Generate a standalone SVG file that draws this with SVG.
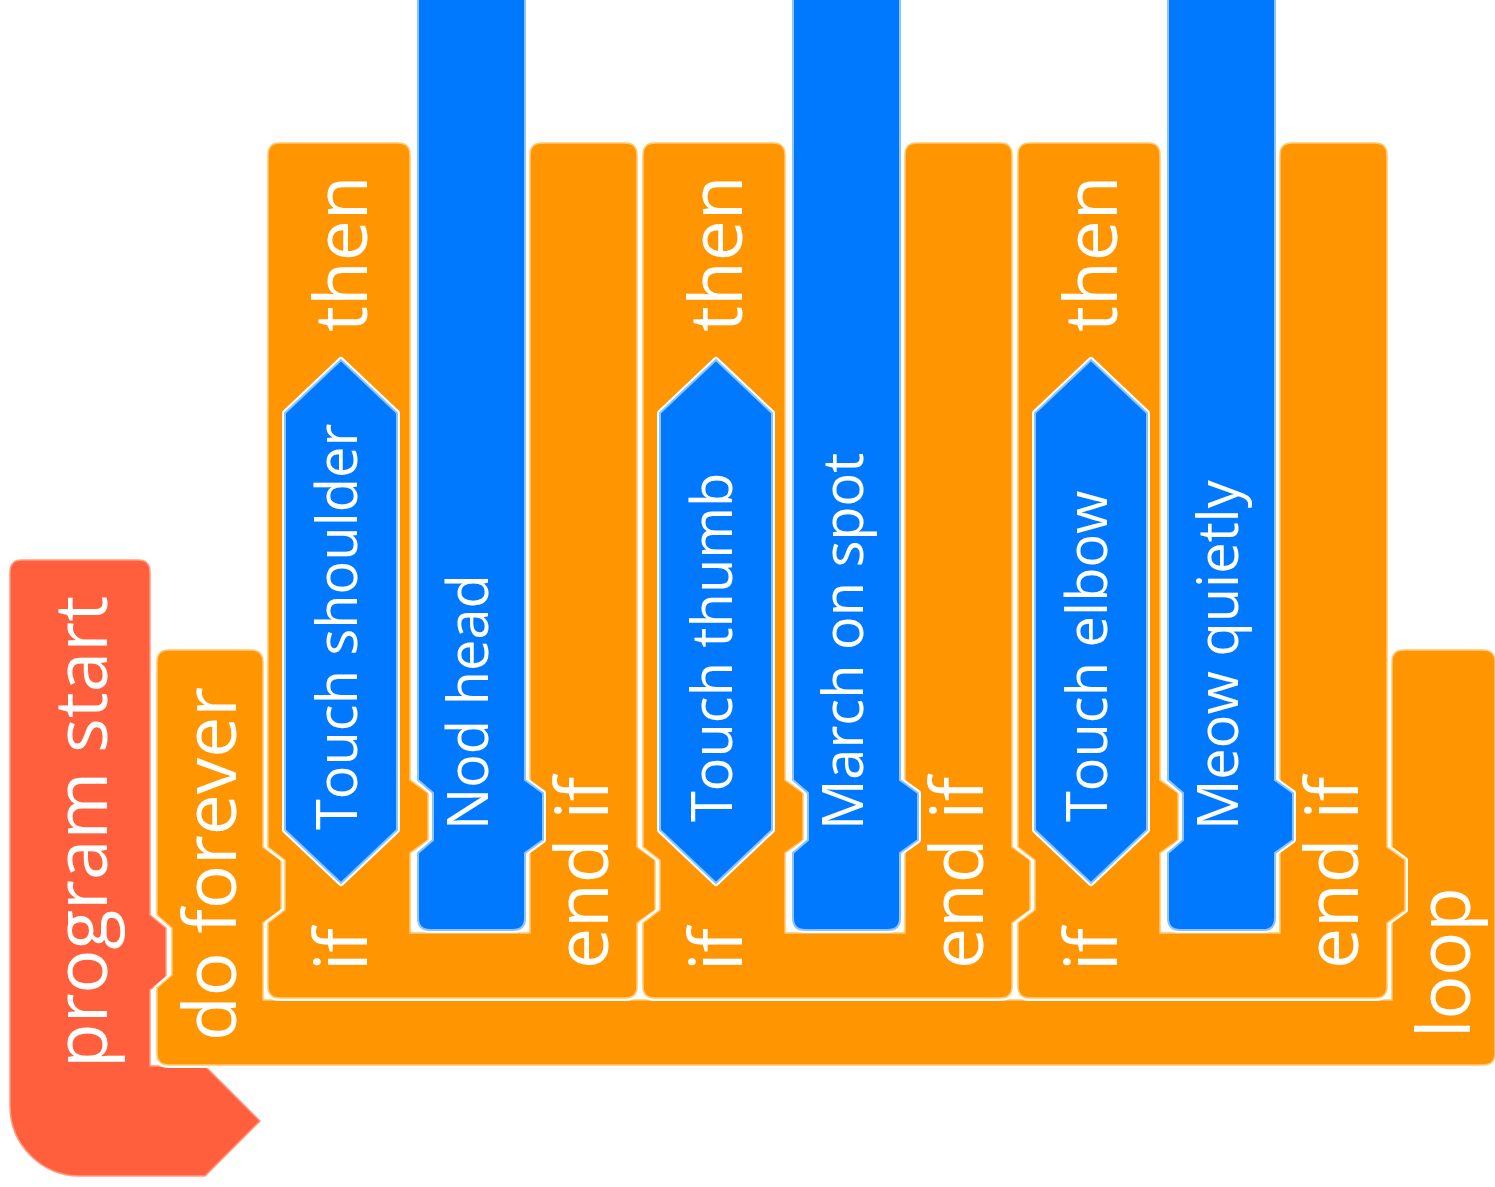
<svg xmlns="http://www.w3.org/2000/svg" xmlns:xlink="http://www.w3.org/1999/xlink" width="1495" height="1187" viewBox="0 0 1495 1187">
  <style>
    .halo { fill: none; stroke: #ffffff; stroke-width: 6; stroke-linejoin: round; }
    .hat { fill: #ff5f3c; stroke: #ff9a80; stroke-width: 1.5; }
    .ctl { fill: #ff9500; stroke: #ffc870; stroke-width: 1.5; }
    .act { fill: #0079ff; stroke: #8cc4ff; stroke-width: 2; }
    text { fill: #ffffff; font-family: "Open Sans", "Noto Sans", sans-serif; }
    .big { font-size: 73px; }
    .small { font-size: 56px; }
  </style>
  <defs>
    <!-- if/then ... end if block, drawn with its left edge at x=0 -->
    <path id="ifShape" d="M0,155 Q0,143 12,143 L130,143 Q142,143 142,155 L142,780 L160,793 L160,840 L142,853 L142,933 L262,933 L262,155 Q262,143 274,143 L357,143 Q369,143 369,155 L369,847 L387,860 L387,910 L369,923 L369,986 Q369,998 357,998 L12,998 Q0,998 0,986 L0,923 L17,910 L17,860 L0,847 Z"/>
    <!-- action block sitting in the mouth of an if block -->
    <path id="actShape" d="M150,-10 L257,-10 L257,780 L275,793 L275,840 L257,853 L257,918 Q257,930 245,930 L162,930 Q150,930 150,918 L150,853 L165,840 L165,793 L150,780 Z"/>
    <!-- boolean condition -->
    <path id="condShape" d="M73,360 L129,413 L129,830 L73,883 L17,830 L17,413 Z"/>
    <path id="hatShape" d="M10,572 Q10,560 22,560 L138,560 Q150,560 150,572 L150,915 L166,928 L166,977 L150,990 L150,1066 L205,1066 L260,1121 L205,1176 L80,1176 A70,70 0 0 1 10,1106 Z"/>
    <path id="foreverShape" d="M157,662 Q157,650 169,650 L251,650 Q263,650 263,662 L263,847 L281,860 L281,910 L263,923 L263,1000 L1392,1000 L1392,662 Q1392,650 1404,650 L1483,650 Q1495,650 1495,662 L1495,1053 Q1495,1065 1483,1065 L169,1065 Q157,1065 157,1053 L157,988 L172,975 L172,928 L157,915 Z"/>
  </defs>

  <rect width="1495" height="1187" fill="#ffffff"/>

  <!-- hat block -->
  <g id="program-start">
    <use xlink:href="#hatShape" class="halo"/>
    <use xlink:href="#hatShape" class="hat"/>
    <text class="big" transform="translate(107,1068) rotate(-90)">program start</text>
  </g>

  <!-- forever loop -->
  <g id="do-forever">
    <use xlink:href="#foreverShape" class="halo"/>
    <use xlink:href="#foreverShape" class="ctl"/>
    <text class="big" transform="translate(236,1041) rotate(-90)">do forever</text>
    <text class="big" transform="translate(1470,1038) rotate(-90)">loop</text>
  </g>

  <!-- first if -->
  <g id="if-shoulder" transform="translate(268,0)">
    <use xlink:href="#ifShape" class="halo"/>
    <use xlink:href="#ifShape" class="ctl"/>
    <text class="big" transform="translate(99,971) rotate(-90)">if</text>
    <text class="big" transform="translate(99,332) rotate(-90)">then</text>
    <text class="big" transform="translate(340,969) rotate(-90)">end if</text>
  </g>
  <g id="cond-shoulder" transform="translate(268,0)">
    <use xlink:href="#condShape" class="halo"/>
    <use xlink:href="#condShape" class="act"/>
    <text class="small" transform="translate(89,830) rotate(-90)">Touch shoulder</text>
  </g>
  <g id="act-nod" transform="translate(268,0)">
    <use xlink:href="#actShape" class="halo"/>
    <use xlink:href="#actShape" class="act"/>
    <text class="small" transform="translate(220,830) rotate(-90)">Nod head</text>
  </g>

  <!-- second if -->
  <g id="if-thumb" transform="translate(643,0)">
    <use xlink:href="#ifShape" class="halo"/>
    <use xlink:href="#ifShape" class="ctl"/>
    <text class="big" transform="translate(99,971) rotate(-90)">if</text>
    <text class="big" transform="translate(99,332) rotate(-90)">then</text>
    <text class="big" transform="translate(340,969) rotate(-90)">end if</text>
  </g>
  <g id="cond-thumb" transform="translate(643,0)">
    <use xlink:href="#condShape" class="halo"/>
    <use xlink:href="#condShape" class="act"/>
    <text class="small" transform="translate(89,822) rotate(-90)">Touch thumb</text>
  </g>
  <g id="act-march" transform="translate(643,0)">
    <use xlink:href="#actShape" class="halo"/>
    <use xlink:href="#actShape" class="act"/>
    <text class="small" transform="translate(220,830) rotate(-90)">March on spot</text>
  </g>

  <!-- third if -->
  <g id="if-elbow" transform="translate(1018,0)">
    <use xlink:href="#ifShape" class="halo"/>
    <use xlink:href="#ifShape" class="ctl"/>
    <text class="big" transform="translate(99,971) rotate(-90)">if</text>
    <text class="big" transform="translate(99,332) rotate(-90)">then</text>
    <text class="big" transform="translate(340,969) rotate(-90)">end if</text>
  </g>
  <g id="cond-elbow" transform="translate(1018,0)">
    <use xlink:href="#condShape" class="halo"/>
    <use xlink:href="#condShape" class="act"/>
    <text class="small" transform="translate(89,822) rotate(-90)">Touch elbow</text>
  </g>
  <g id="act-meow" transform="translate(1018,0)">
    <use xlink:href="#actShape" class="halo"/>
    <use xlink:href="#actShape" class="act"/>
    <text class="small" transform="translate(220,830) rotate(-90)">Meow quietly</text>
  </g>
</svg>
